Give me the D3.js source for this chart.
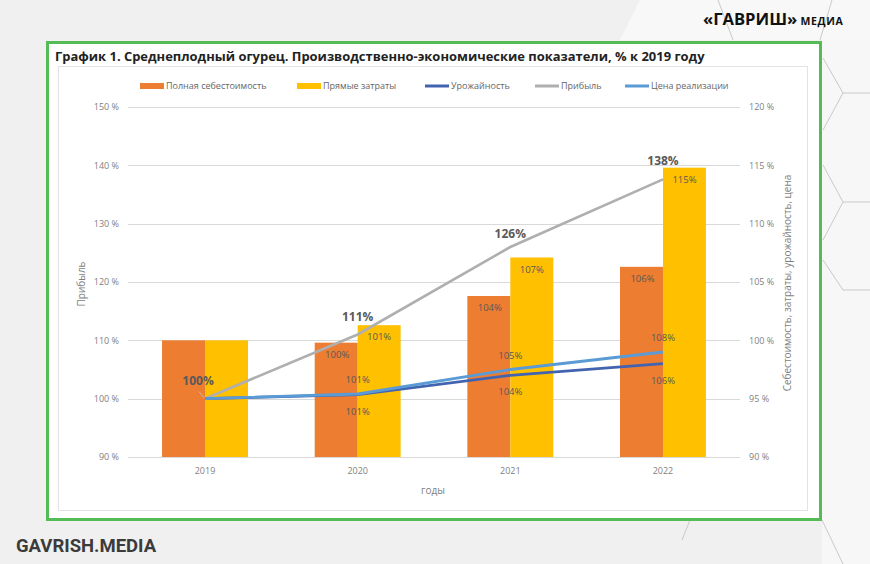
<!DOCTYPE html>
<html><head><meta charset="utf-8">
<script src="https://cdn.jsdelivr.net/npm/d3@7/dist/d3.min.js"></script>
<style>html,body{margin:0;padding:0;background:#f1f1f1;}svg{display:block;}</style>
</head><body>
<svg id="c" width="870" height="564"></svg>
<script>
const years = ["2019", "2020", "2021", "2022"];
const costValues = [100, 99.8, 103.8, 106.3];      // Полная себестоимость (right axis)
const directValues = [100, 101.3, 107.1, 114.8];   // Прямые затраты (right axis)
const yieldValues = [100, 100.7, 104, 106];        // Урожайность (left axis)
const profitValues = [100, 111, 126, 137.6];       // Прибыль (left axis)
const priceValues = [100, 100.8, 105, 108];        // Цена реализации (left axis)
const leftTicks = [90, 100, 110, 120, 130, 140, 150];
const rightTicks = [90, 95, 100, 105, 110, 115, 120];
const titleText = "График 1. Среднеплодный огурец. Производственно-экономические показатели, % к 2019 году";
const legendNames = ["Полная себестоимость", "Прямые затраты", "Урожайность", "Прибыль", "Цена реализации"];

const C = {cost:"#ED7D31", direct:"#FFC000", yield:"#4264B0", profit:"#AFAFAF", price:"#5B9BD5"};
const FONT = "'Open Sans', 'DejaVu Sans', sans-serif";
const svg = d3.select("#c");

// ---- background ----
svg.append("rect").attr("width",870).attr("height",564).attr("fill","#f0f0f0");
svg.append("rect").attr("x",822).attr("width",48).attr("height",564).attr("fill","#f7f7f7");
svg.append("path").attr("d","M640,0 L870,0 L870,40 L620,40 Z").attr("fill","#f8f8f8");
const hex = [[718,0,733,40],[832,0,820,40],[823,58,843,93],[843,93,870,93],[843,93,823,130],[823,165,843,202],[843,202,870,202],[843,202,823,240],[823,260,843,290],[843,290,870,290],[822,520,843,564],[690,520,682,540]];
svg.selectAll(".hex").data(hex).join("line").attr("class","hex")
  .attr("x1",d=>d[0]).attr("y1",d=>d[1]).attr("x2",d=>d[2]).attr("y2",d=>d[3])
  .attr("stroke","#c9c9c9").attr("stroke-width",1);

// ---- green frame ----
svg.append("rect").attr("x",47.5).attr("y",42.5).attr("width",773).attr("height",477)
  .attr("fill","#ffffff").attr("stroke","#55bb55").attr("stroke-width",3);
// inner chart box
svg.append("rect").attr("x",58.5).attr("y",66.5).attr("width",749).attr("height",444)
  .attr("fill","#ffffff").attr("stroke","#e3e3e3").attr("stroke-width",1);

// title
svg.append("text").attr("x",55).attr("y",61).text(titleText)
  .attr("font-family",FONT).attr("font-weight","bold").attr("font-size",12.95).attr("fill","#222");

// logos
const logo = svg.append("text").attr("x",703).attr("y",25).attr("font-family",FONT).attr("font-weight","bold").attr("fill","#111");
logo.append("tspan").text("«ГАВРИШ»").attr("font-size",16.6);
logo.append("tspan").text(" МЕДИА").attr("font-size",10.5).attr("letter-spacing",0.6);
svg.append("text").attr("x",16).attr("y",552).text("GAVRISH.MEDIA")
  .attr("font-family","Roboto, 'Open Sans', sans-serif").attr("font-weight","bold").attr("font-size",18.5).attr("fill","#3b3b3b");

// ---- scales ----
const x0 = d3.scaleBand().domain(years).range([128.7, 739.3]).paddingInner(0.437).paddingOuter(0.2185);
const x1 = d3.scaleBand().domain(["cost","direct"]).range([0, x0.bandwidth()]);
const yL = d3.scaleLinear().domain([90,150]).range([457,107]);
const yR = d3.scaleLinear().domain([90,120]).range([457,107]);
const cx = d => x0(d) + x0.bandwidth()/2;

// gridlines
svg.append("g").selectAll("line").data(leftTicks).join("line")
  .attr("x1",128).attr("x2",740).attr("y1",d=>Math.round(yL(d))+0.5).attr("y2",d=>Math.round(yL(d))+0.5)
  .attr("stroke","#d9d9d9").attr("stroke-width",1);

// axes
const fmtTick = d => d + " %";
const axL = svg.append("g").attr("transform","translate(128,0)")
  .call(d3.axisLeft(yL).tickValues(leftTicks).tickFormat(fmtTick).tickSize(0).tickPadding(9));
const axR = svg.append("g").attr("transform","translate(740,0)")
  .call(d3.axisRight(yR).tickValues(rightTicks).tickFormat(fmtTick).tickSize(0).tickPadding(9));
const axB = svg.append("g").attr("transform","translate(0,457)")
  .call(d3.axisBottom(x0).tickSize(0).tickPadding(11));
[axL,axR,axB].forEach(a=>{
  a.select(".domain").remove();
  a.selectAll("text").attr("font-family",FONT).attr("font-size",9).attr("fill","#7f7f7f");
});

// axis titles
svg.append("text").attr("transform","translate(85,284) rotate(-90)").attr("text-anchor","middle")
  .text("Прибыль").attr("font-family",FONT).attr("font-size",10).attr("fill","#7f7f7f");
svg.append("text").attr("transform","translate(791,283) rotate(-90)").attr("text-anchor","middle")
  .text("Себестоимость, затраты, урожайность, цена").attr("font-family",FONT).attr("font-size",10).attr("fill","#7f7f7f");
svg.append("text").attr("x",433).attr("y",494).attr("text-anchor","middle")
  .text("годы").attr("font-family",FONT).attr("font-size",10).attr("fill","#7f7f7f");

// ---- bars ----
const barData = [];
years.forEach((y,i)=>{
  barData.push({year:y, key:"cost", v:costValues[i], i});
  barData.push({year:y, key:"direct", v:directValues[i], i});
});
svg.append("g").selectAll("rect").data(barData).join("rect")
  .attr("x",d=>x0(d.year)+x1(d.key)).attr("width",x1.bandwidth())
  .attr("y",d=>yR(d.v)).attr("height",d=>yR(90)-yR(d.v))
  .attr("fill",d=>C[d.key]);

// ---- lines ----
const lineGen = vals => d3.line().x((d,i)=>cx(years[i])).y(d=>yL(d))(vals);
svg.append("path").attr("d",lineGen(profitValues)).attr("fill","none").attr("stroke",C.profit).attr("stroke-width",2.6);
svg.append("path").attr("d",lineGen(yieldValues)).attr("fill","none").attr("stroke",C.yield).attr("stroke-width",2.8);
svg.append("path").attr("d",lineGen(priceValues)).attr("fill","none").attr("stroke",C.price).attr("stroke-width",2.8);

// ---- data labels ----
const pct = v => Math.round(v) + "%";
const lab = (x,y,t,opts={}) => svg.append("text").attr("x",x).attr("y",y).attr("text-anchor","middle")
  .text(t).attr("font-family",FONT).attr("font-size",opts.size||9.5).attr("font-weight",opts.bold?"bold":"normal")
  .attr("fill","#595959");

barData.filter(d=>d.i>0).forEach(d=>{
  lab(x0(d.year)+x1(d.key)+x1.bandwidth()/2+ (d.key==="cost"?1:0), yR(d.v)+15, pct(d.v));
});
years.forEach((y,i)=>{
  if(i===0) return;
  lab(cx(y), yL(priceValues[i])-11, pct(priceValues[i]));
  lab(cx(y), yL(yieldValues[i])+20, pct(yieldValues[i]));
});
const profitOff = [-14, -14, -9, -14];
years.forEach((y,i)=>{
  lab(cx(y) - (i===0?7:0), yL(profitValues[i]) + profitOff[i], pct(profitValues[i]), {size:12, bold:true});
});
// leader line for 2019 profit label
svg.append("line").attr("x1",cx(years[0])-6).attr("y1",yL(profitValues[0])-7)
  .attr("x2",cx(years[0])-1).attr("y2",yL(profitValues[0])-1).attr("stroke","#bdbdbd").attr("stroke-width",1);

// ---- legend ----
const legendItems = [
  {name:legendNames[0], color:C.cost, type:"bar", x:140},
  {name:legendNames[1], color:C.direct, type:"bar", x:297},
  {name:legendNames[2], color:C.yield, type:"line", x:425},
  {name:legendNames[3], color:C.profit, type:"line", x:535},
  {name:legendNames[4], color:C.price, type:"line", x:625}
];
const lg = svg.append("g").selectAll("g").data(legendItems).join("g").attr("transform",d=>`translate(${d.x},86)`);
lg.filter(d=>d.type==="bar").append("rect").attr("x",0).attr("y",-3).attr("width",24).attr("height",6).attr("fill",d=>d.color);
lg.filter(d=>d.type==="line").append("line").attr("x1",0).attr("x2",24).attr("y1",0).attr("y2",0).attr("stroke",d=>d.color).attr("stroke-width",3);
lg.append("text").attr("x",26).attr("y",3.3).text(d=>d.name)
  .attr("font-family",FONT).attr("font-size",9).attr("fill","#666");
</script>
</body></html>
